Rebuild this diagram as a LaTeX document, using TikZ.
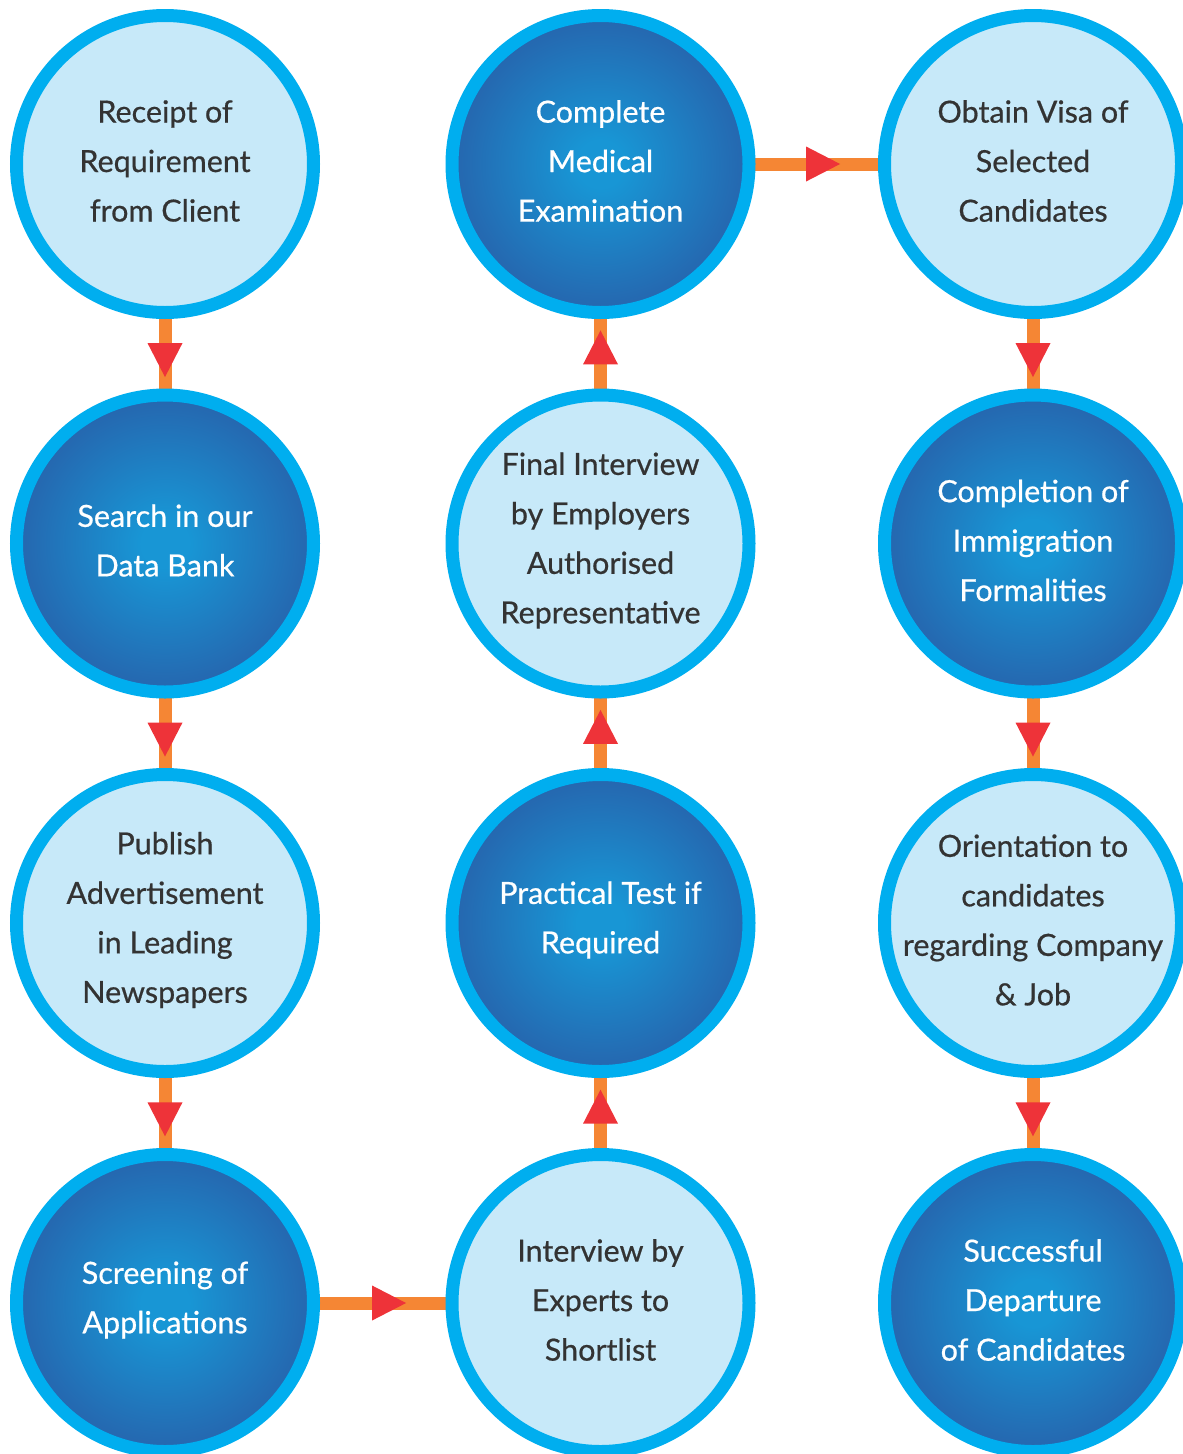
\documentclass[tikz,border=0pt]{standalone}
\usepackage{fontspec}
\setmainfont{Lato}
\newfontfamily\labelfont{Lato}[FakeBold=0.6]
\usetikzlibrary{shapes.geometric,backgrounds}
\definecolor{ringblue}{HTML}{00AEEF}
\definecolor{lightfill}{HTML}{C7E9F9}
\definecolor{dkin}{HTML}{1896D5}
\definecolor{dkmid}{HTML}{2568B0}
\definecolor{dkout}{HTML}{2A56A2}
\definecolor{linkorange}{HTML}{F58634}
\definecolor{tipred}{HTML}{EE3339}
\definecolor{textdark}{HTML}{333333}
\pgfdeclareradialshading{darkballshade}{\pgfpoint{0bp}{0bp}}{color(0bp)=(dkin); color(4bp)=(dkin); color(24bp)=(dkmid); color(40bp)=(dkout); color(50bp)=(dkout)}
\begin{document}
\begin{tikzpicture}[x=1pt,y=-1pt,
  ball/.style={circle, draw=ringblue, line width=13pt, minimum size=297pt, inner sep=0pt, outer sep=0pt},
  lightball/.style={ball, fill=lightfill},
  darkball/.style={ball, shading=darkballshade},
  txt/.style={align=center, font=\labelfont\fontsize{30.5}{49.5}\selectfont, text=textdark, inner sep=0pt, yshift=3pt},
  wtxt/.style={txt, text=white},
  conn/.style={draw=linkorange, line width=13pt},
  tiptri/.style={isosceles triangle, isosceles triangle stretches, minimum width=35pt, minimum height=34pt, inner sep=0pt, fill=tipred, draw=none, sloped, allow upside down}
]
\useasboundingbox (0,0) rectangle (1183,1454);

% circles
\node[lightball] (n1)  at (165,164)    {};
\node[darkball]  (n2)  at (165,543.5)  {};
\node[lightball] (n3)  at (165,923)    {};
\node[darkball]  (n4)  at (165,1303)   {};
\node[lightball] (n5)  at (600.5,1303) {};
\node[darkball]  (n6)  at (600.5,923)  {};
\node[lightball] (n7)  at (600.5,543.5){};
\node[darkball]  (n8)  at (600.5,164)  {};
\node[lightball] (n9)  at (1033,164)   {};
\node[darkball]  (n10) at (1033,543.5) {};
\node[lightball] (n11) at (1033,923)   {};
\node[darkball]  (n12) at (1033,1303)  {};

% texts
\node[txt]  (t1)  at (n1)  {Receipt of\\Requirement\\from Client};
\node[wtxt] (t2)  at (n2)  {Search in our\\Data Bank};
\node[txt]  (t3)  at (n3)  {Publish\\Advertisement\\in Leading\\Newspapers};
\node[wtxt] (t4)  at (n4)  {Screening of\\Applications};
\node[txt]  (t5)  at (n5)  {Interview by\\Experts to\\Shortlist};
\node[wtxt] (t6)  at (n6)  {Practical Test if\\Required};
\node[txt]  (t7)  at (n7)  {Final Interview\\by Employers\\Authorised\\Representative};
\node[wtxt] (t8)  at (n8)  {Complete\\Medical\\Examination};
\node[txt]  (t9)  at (n9)  {Obtain Visa of\\Selected\\Candidates};
\node[wtxt] (t10) at (n10) {Completion of\\Immigration\\Formalities};
\node[txt]  (t11) at (n11) {Orientation to\\candidates\\regarding Company\\\& Job};
\node[wtxt] (t12) at (n12) {Successful\\Departure\\of Candidates};

% connectors
\begin{pgfonlayer}{background}
\draw[conn] (n1.center)  -- node[tiptri]{} (n2.center);
\draw[conn] (n2.center)  -- node[tiptri]{} (n3.center);
\draw[conn] (n3.center)  -- node[tiptri]{} (n4.center);
\draw[conn] (n4.center)  -- node[tiptri]{} (n5.center);
\draw[conn] (n5.center)  -- node[tiptri]{} (n6.center);
\draw[conn] (n6.center)  -- node[tiptri]{} (n7.center);
\draw[conn] (n7.center)  -- node[tiptri]{} (n8.center);
\draw[conn] (n8.center)  -- node[tiptri]{} (n9.center);
\draw[conn] (n9.center)  -- node[tiptri]{} (n10.center);
\draw[conn] (n10.center) -- node[tiptri]{} (n11.center);
\draw[conn] (n11.center) -- node[tiptri]{} (n12.center);
\end{pgfonlayer}
\end{tikzpicture}
\end{document}
